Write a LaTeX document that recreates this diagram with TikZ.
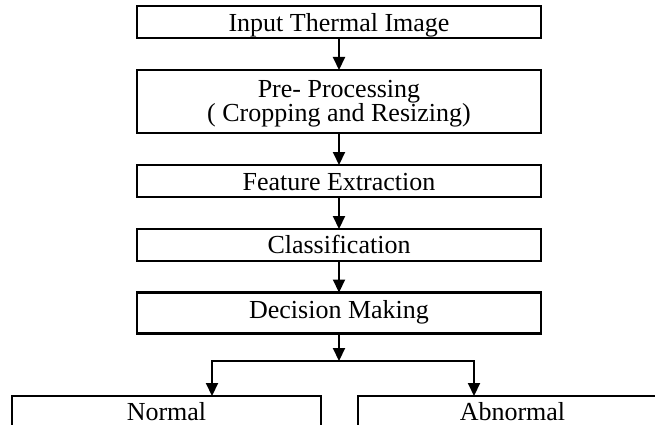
\documentclass[tikz,border=0pt]{standalone}
\usepackage{fontspec}
\setmainfont{Liberation Serif}
\usetikzlibrary{arrows.meta}
\begin{document}
\begin{tikzpicture}[x=1pt,y=-1pt,
  stagebox/.style={draw=black, line width=2.1pt, minimum width=404pt,
    inner xsep=0pt, inner ysep=0pt, outer sep=0pt,
    font=\fontsize{26}{24.5}\selectfont, align=center, anchor=north},
  flow/.style={line width=2.1pt, -{Triangle[length=13pt,width=12pt]}}]
\clip (0,0) rectangle (655,425);

% processing chain
\node[stagebox, text height=26pt, text depth=6pt] (input) at (339,6) {Input Thermal Image};
\node[stagebox, text height=51.5pt, text depth=11.5pt] (prep) at (339,70) {Pre- Processing\\( Cropping and Resizing)};
\node[stagebox, text height=25pt, text depth=7pt] (feat) at (339,165) {Feature Extraction};
\node[stagebox, text height=24pt, text depth=8pt] (classify) at (339,229) {Classification};
\node[stagebox, text height=26pt, text depth=15pt] (decide) at (339,292.5) {Decision Making};

% outcomes
\node[stagebox, minimum width=309pt, text height=24pt, text depth=30pt] (normal) at (166.5,396) {Normal};
\node[stagebox, minimum width=309pt, text height=24pt, text depth=30pt] (abnormal) at (512.5,396) {Abnormal};

\draw[flow] (input) -- (prep);
\draw[flow] (prep) -- (feat);
\draw[flow] (feat) -- (classify);
\draw[flow] (classify) -- (decide);

% branching to the two outcomes
\coordinate (split) at (339,361);
\coordinate (lefttop) at (212,361);
\coordinate (righttop) at (474,361);
\draw[flow] (decide) -- (split);
\draw[flow] (split) -| (lefttop |- normal.north);
\draw[flow] (split) -| (righttop |- abnormal.north);
\end{tikzpicture}
\end{document}
